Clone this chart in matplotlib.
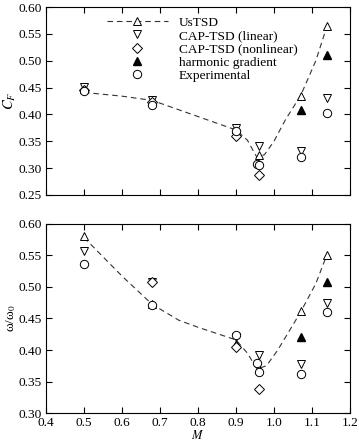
import matplotlib
matplotlib.use("Agg")
import matplotlib.pyplot as plt
from matplotlib.lines import Line2D

plt.rcParams["font.family"] = ["Liberation Serif", "DejaVu Serif"]
plt.rcParams["mathtext.fontset"] = "stix"
plt.rcParams["font.size"] = 10

# Mach numbers
mach = [0.5, 0.68, 0.9, 0.96, 1.07, 1.14]
mach_nl = [0.5, 0.68, 0.9, 0.96]
mach_hg = [1.07, 1.14]
mach_exp = [0.5, 0.68, 0.9, 0.955, 0.96, 1.07, 1.14]

# flutter coefficient C_F
cf_ustsd = [0.448, 0.425, 0.372, 0.325, 0.435, 0.565]
cf_lin = [0.451, 0.426, 0.374, 0.342, 0.332, 0.430]
cf_nonlin = [0.446, 0.424, 0.360, 0.288]
cf_harm = [0.408, 0.511]
cf_exp = [0.444, 0.418, 0.370, 0.308, 0.306, 0.320, 0.403]
# dashed UsTSD curve
cf_curve_m = [0.5, 0.6, 0.68, 0.8, 0.9, 0.93, 0.955, 0.975, 1.0, 1.03, 1.07, 1.11, 1.14]
cf_curve = [0.441, 0.434, 0.426, 0.396, 0.371, 0.352, 0.320, 0.325, 0.350, 0.390, 0.435, 0.500, 0.566]

# frequency ratio omega/omega0
w_ustsd = [0.580, 0.472, 0.410, 0.370, 0.461, 0.551]
w_lin = [0.557, 0.508, 0.421, 0.392, 0.378, 0.474]
mach_wnl = [0.68, 0.9, 0.96]
w_nonlin = [0.507, 0.404, 0.339]
w_harm = [0.420, 0.507]
w_exp = [0.536, 0.471, 0.423, 0.380, 0.365, 0.362, 0.460]
w_curve_m = [0.5, 0.6, 0.68, 0.75, 0.8, 0.9, 0.93, 0.955, 0.98, 1.01, 1.07, 1.11, 1.14]
w_curve = [0.578, 0.517, 0.472, 0.447, 0.436, 0.416, 0.395, 0.370, 0.375, 0.400, 0.460, 0.505, 0.552]

fig = plt.figure(figsize=(3.59, 4.41), dpi=100)
ax1 = fig.add_axes([0.128, 0.558, 0.847, 0.426])
ax2 = fig.add_axes([0.128, 0.063, 0.847, 0.430])

hollow = dict(linestyle="none", markerfacecolor="white", markeredgecolor="black",
              markeredgewidth=0.7, markersize=6)
dash = dict(color="#333333", linestyle=(0, (5, 3.5)), linewidth=0.8)


def draw(ax, ust, lin, nl_m, nl, harm, exp, cm, cv):
    ax.plot(cm, cv, **dash)
    ax.plot(mach, ust, marker="^", **hollow)
    ax.plot(mach, lin, marker="v", **hollow)
    ax.plot(nl_m, nl, marker="D", **{**hollow, "markersize": 5.5})
    ax.plot(mach_hg, harm, marker="^", linestyle="none", color="black", markersize=5.5)
    ax.plot(mach_exp, exp, marker="o", **hollow)
    ax.set_xlim(0.4, 1.2)
    ax.set_xticks([0.4, 0.5, 0.6, 0.7, 0.8, 0.9, 1.0, 1.1, 1.2])
    ax.tick_params(direction="in", top=True, right=True, length=4, width=0.8,
                   labelsize=9.6, pad=3)
    for s in ax.spines.values():
        s.set_linewidth(0.8)


draw(ax1, cf_ustsd, cf_lin, mach_nl, cf_nonlin, cf_harm, cf_exp, cf_curve_m, cf_curve)
ax1.set_ylim(0.25, 0.60)
ax1.set_yticks([0.25, 0.30, 0.35, 0.40, 0.45, 0.50, 0.55, 0.60])
ax1.set_yticklabels([f"{v:.2f}" for v in ax1.get_yticks()])
ax1.tick_params(labelbottom=False)
ax1.set_ylabel("$C_F$", fontsize=10.5, labelpad=0)

draw(ax2, w_ustsd, w_lin, mach_wnl, w_nonlin, w_harm, w_exp, w_curve_m, w_curve)
ax2.set_ylim(0.30, 0.60)
ax2.set_yticks([0.30, 0.35, 0.40, 0.45, 0.50, 0.55, 0.60])
ax2.set_yticklabels([f"{v:.2f}" for v in ax2.get_yticks()])
ax2.set_xticklabels([f"{v:.1f}" for v in ax2.get_xticks()])
ax2.set_ylabel(r"ω/ω$_0$", fontsize=9.5, labelpad=0)
ax2.set_xlabel("$M$", fontsize=9, labelpad=0)

# legend
handles = [
    Line2D([], [], marker="^", markerfacecolor="white", markeredgecolor="black",
           markeredgewidth=0.7, markersize=6, **dash),
    Line2D([], [], marker="v", **hollow),
    Line2D([], [], marker="D", **{**hollow, "markersize": 5.5}),
    Line2D([], [], marker="^", linestyle="none", color="black", markersize=5.5),
    Line2D([], [], marker="o", **hollow),
]
labels = ["UsTSD", "CAP-TSD (linear)", "CAP-TSD (nonlinear)", "harmonic gradient", "Experimental"]
ax1.legend(handles, labels, loc="upper left", bbox_to_anchor=(0.2, 0.95), frameon=False,
           borderpad=0, borderaxespad=0, handlelength=4.6, handletextpad=0.8,
           labelspacing=0.07, fontsize=9.6)

fig.savefig("out.png", dpi=100)
